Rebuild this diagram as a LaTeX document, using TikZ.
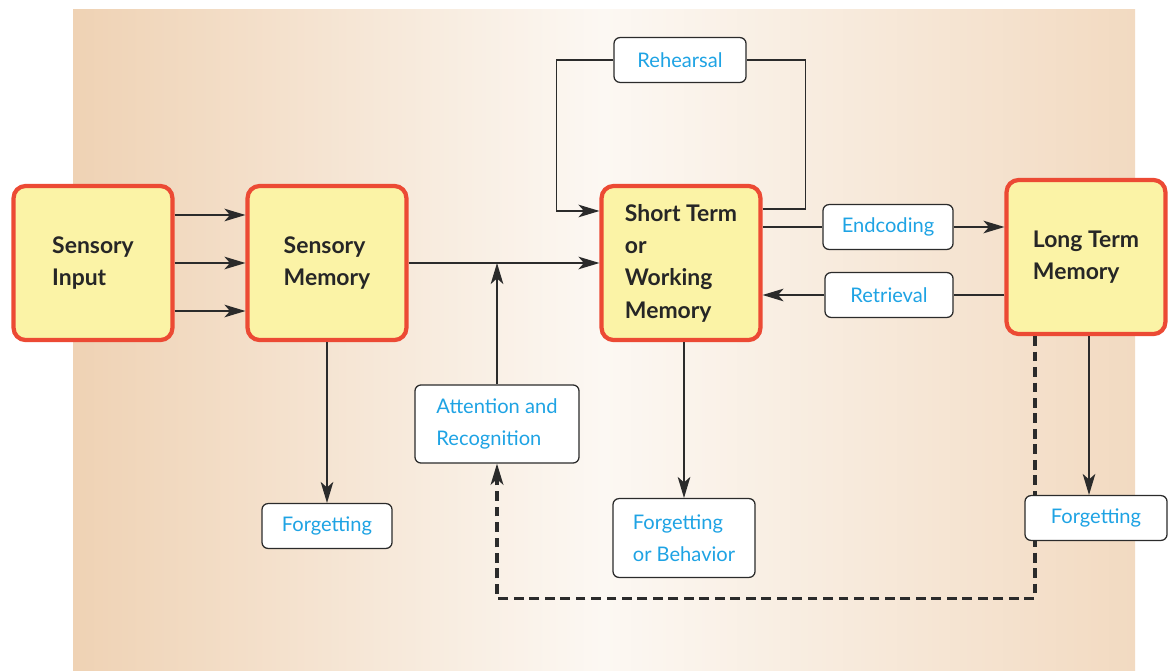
\documentclass[tikz,border=0pt]{standalone}
\usepackage{fontspec}
\setmainfont{Lato}
\usetikzlibrary{arrows.meta}
\definecolor{memred}{HTML}{EC4A34}
\definecolor{memfill}{HTML}{FBF3A6}
\definecolor{labelblue}{HTML}{1EA3E4}
\definecolor{lineblack}{HTML}{2B2B2B}
\definecolor{tanleft}{HTML}{EFD2B4}
\definecolor{tanmid}{HTML}{FCF8F3}
\definecolor{tanright}{HTML}{F2DAC1}
\begin{document}
\begin{tikzpicture}[x=0.025cm, y=-0.025cm,
  memory/.style={draw=memred, line width=3pt, fill=memfill, rounded corners=0.3cm,
    minimum width=3.97cm, minimum height=3.85cm, align=left,
    font=\fontsize{16.3}{23}\selectfont\bfseries, text=black!85},
  process/.style={draw=lineblack, line width=0.9pt, fill=white, rounded corners=0.15cm,
    minimum height=1.12cm, align=left, font=\fontsize{14.3}{23}\selectfont, text=labelblue},
  link/.style={draw=lineblack, line width=1pt},
  arr/.style={link, -{Stealth[length=15pt, width=9pt, inset=4pt]}},
  dashline/.style={line width=2.2pt, dash pattern=on 7pt off 4pt}]
\useasboundingbox (0,0) rectangle (1174,670);
\fill[left color=tanleft, right color=tanright, middle color=tanmid] (73,10) rectangle (1135,670);
%% memory stores
\node[memory] (sin) at (93,263) {Sensory\\Input};
\node[memory] (smem) at (327,263) {Sensory\\Memory};
\node[memory] (stm) at (681,263) {Short Term\\or\\Working\\Memory};
\node[memory] (ltm) at (1086,257) {Long Term\\Memory};
%% processes
\node[process, minimum width=3.3cm] (reh) at (680,60) {Rehearsal};
\node[process, minimum width=3.25cm] (enc) at (888,227) {Endcoding};
\node[process, minimum width=3.2cm] (ret) at (889,295) {Retrieval};
\node[process, minimum width=4.1cm, minimum height=1.95cm] (att) at (497,424) {Attention and\\Recognition};
\node[process, minimum width=3.25cm] (fg1) at (327,526) {Forgetting};
\node[process, minimum width=3.55cm, minimum height=1.97cm] (fgb) at (684,538) {Forgetting\\or Behavior};
%% back to attention (runs behind the last box)
\draw[arr, dashline] ([xshift=-1.275cm]ltm.south) -- ++(0,262) -| (att.south);
\node[process, minimum width=3.55cm] (fg3) at (1096,518) {Forgetting};
%% input to sensory memory
\foreach \dy in {1.2,0,-1.2}
  \draw[arr] ([yshift=\dy cm]sin.east) -- ([yshift=\dy cm]sin.east -| smem.west);
\draw[arr] (smem) -- (stm);
\draw[arr] (att.north) -- (att.north |- smem.east);
%% rehearsal loop
\draw[link] ([yshift=1.35cm]stm.east) -- ++(43,0) |- (reh.east);
\draw[arr] (reh.west) -- ++(-57,0) |- ([yshift=1.3cm]stm.west);
%% encoding and retrieval
\draw[link] (enc.west -| stm.east) -- (enc.west);
\draw[arr] (enc.east) -- (enc.east -| ltm.west);
\draw[link] (ret.east -| ltm.west) -- (ret.east);
\draw[arr] (ret.west) -- (ret.west -| stm.east);
%% forgetting
\draw[arr] (smem.south) -- (fg1.north);
\draw[arr] (stm.south -| fgb.north) -- (fgb.north);
\draw[arr] ([xshift=0.075cm]ltm.south) -- ([xshift=0.075cm]ltm.south |- fg3.north);
\end{tikzpicture}
\end{document}
